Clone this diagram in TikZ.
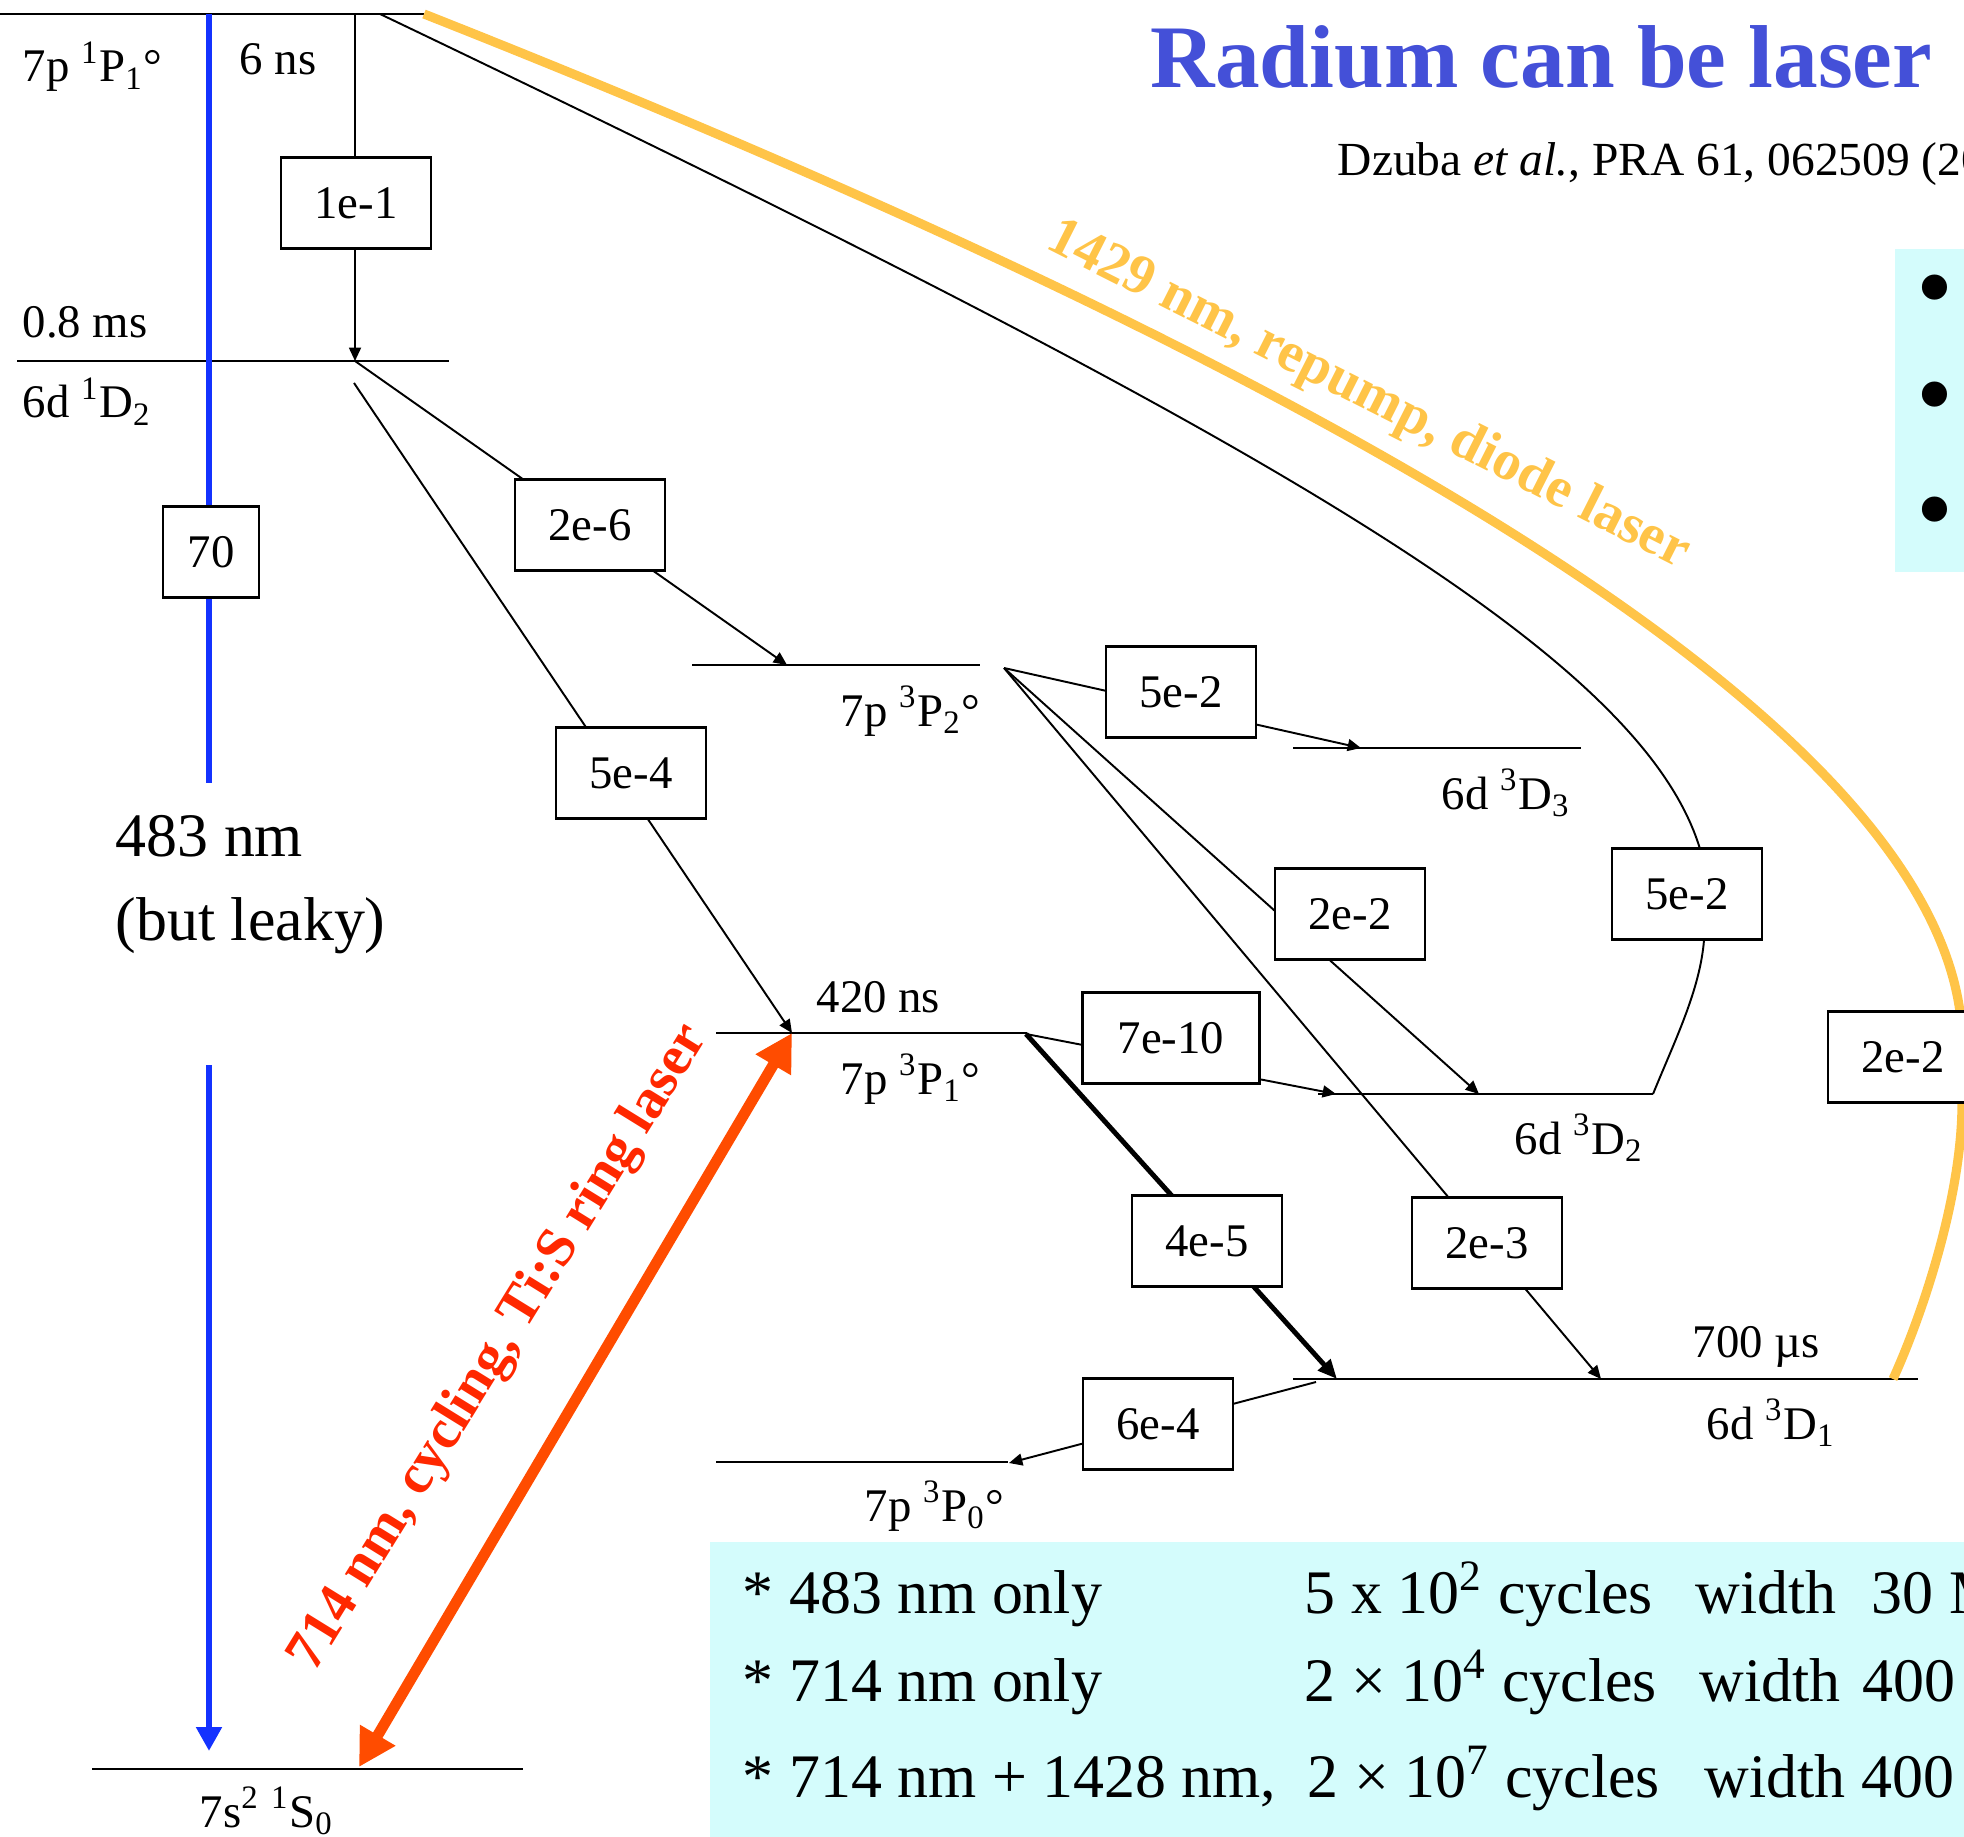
\documentclass[tikz,border=0pt]{standalone}
\usepackage{fontspec}
\setmainfont{Liberation Serif}
\usetikzlibrary{arrows.meta}
\definecolor{titleblue}{RGB}{68,80,216}
\definecolor{beamblue}{RGB}{20,50,255}
\definecolor{cyclered}{RGB}{255,76,0}
\definecolor{cycletext}{RGB}{255,40,0}
\definecolor{repump}{RGB}{255,196,72}
\definecolor{panel}{RGB}{212,252,252}

\begin{document}
\begin{tikzpicture}[
  x=0.01cm, y=-0.01cm,
  font=\fontsize{13.3}{16}\selectfont,
  rate/.style={draw=black, fill=white, line width=0.8pt, inner sep=0pt,
               minimum width=1.5cm, minimum height=0.91cm},
  lvl/.style={draw=black, line width=0.75pt},
  arr/.style={-{Triangle[length=3.8pt,width=3.4pt]}, draw=black, line width=0.55pt},
  heavyarr/.style={arr, -{Triangle[length=5.5pt,width=4.6pt]}, line width=1.4pt},
  beam/.style={draw=beamblue, line width=1.9pt},
  lab/.style={anchor=base west, inner sep=0pt},
  biglab/.style={lab, font=\fontsize{17.6}{21}\selectfont},
  slant/.style={inner sep=0pt, font=\bfseries\fontsize{16}{19}\selectfont},
  bul/.style={inner sep=0pt, font=\fontsize{30}{32}\selectfont}
]
\useasboundingbox (0,0) rectangle (1964,1837);
\clip (0,0) rectangle (1964,1837);

\fill[panel] (1895,249) rectangle (1990,572);
\fill[panel] (710,1542) rectangle (1990,1860);

\coordinate (p11L) at (0,14);     \coordinate (p11R) at (424,14);
\coordinate (d12L) at (17,361);   \coordinate (d12R) at (449,361);
\coordinate (p32L) at (692,665);  \coordinate (p32R) at (980,665);
\coordinate (d33L) at (1293,748); \coordinate (d33R) at (1581,748);
\coordinate (p31L) at (716,1033); \coordinate (p31R) at (1027,1033);
\coordinate (d32L) at (1318,1094);\coordinate (d32R) at (1653,1094);
\coordinate (d31L) at (1293,1379);\coordinate (d31R) at (1918,1379);
\coordinate (p30L) at (716,1462); \coordinate (p30R) at (1008,1462);
\coordinate (s10L) at (92,1769);  \coordinate (s10R) at (523,1769);

\coordinate (p11drop) at (355,14);
\coordinate (d12hit) at (355,361);
\coordinate (d12out) at (354,383);
\coordinate (p32hit) at (787,665);
\coordinate (p31hit) at (792,1033);
\coordinate (p32src) at (1004,668);
\coordinate (d33hit) at (1361,748);
\coordinate (d32hitA) at (1479,1094);
\coordinate (d31hitA) at (1601,1379);
\coordinate (p31src) at (1026,1034);
\coordinate (d32hitB) at (1336,1094);
\coordinate (d31hitB) at (1337,1379);
\coordinate (d31src) at (1316,1382);
\coordinate (p30hit) at (1009,1463);
\coordinate (p11curve) at (380,14);
\coordinate (p11yel) at (424,14);
\coordinate (d31yel) at (1893,1379);
\coordinate (blueTop) at (209,14);
\coordinate (blueGap) at (209,783);
\coordinate (blueResume) at (209,1065);
\coordinate (blueTip) at (209,1751);
\coordinate (s10red) at (359,1767);

\draw[lvl] (p11L) -- (p11R);
\draw[lvl] (d12L) -- (d12R);
\draw[lvl] (p32L) -- (p32R);
\draw[lvl] (d33L) -- (d33R);
\draw[lvl] (p31L) -- (p31R);
\draw[lvl] (d32L) -- (d32R);
\draw[lvl] (d31L) -- (d31R);
\draw[lvl] (p30L) -- (p30R);
\draw[lvl] (s10L) -- (s10R);

\draw[arr] (p11drop) -- (d12hit);
\draw[arr] (d12hit) -- (p32hit);
\draw[arr] (d12out) -- (p31hit);
\draw[arr] (p32src) -- (d33hit);
\draw[arr] (p32src) -- (d32hitA);
\draw[arr] (p32src) -- (d31hitA);
\draw[arr] (p31src) -- (d32hitB);
\draw[heavyarr] (p31src) -- (d31hitB);
\draw[arr] (d31src) -- (p30hit);
\draw[line width=0.55pt] (p11curve) .. controls (1250,430) and (1640,650) .. (1700,849)
  -- (1704,940) .. controls (1700,990) and (1675,1040) .. (d32R);
\draw[repump, line width=2.6pt] (p11yel) .. controls (1350,380) and (1920,720) .. (1960,1012)
  -- (1962,1103) .. controls (1962,1200) and (1920,1320) .. (d31yel);

\draw[beam] (blueTop) -- (blueGap);
\draw[beam, -{Triangle[length=6.8pt,width=7pt]}] (blueResume) -- (blueTip);
\draw[cyclered, line width=3.1pt, {Triangle[length=10.5pt,width=11pt]}-{Triangle[length=10.5pt,width=11pt]}] (s10red) -- (p31hit);

\node[rate] (r11) at (356,203) {1e-1};
\node[rate, minimum width=0.96cm] (r70) at (211,552) {70};
\node[rate] (r26) at (590,525) {2e-6};
\node[rate] (r54) at (631,773) {5e-4};
\node[rate] (r52a) at (1181,692) {5e-2};
\node[rate] (r22a) at (1350,914) {2e-2};
\node[rate] (r52b) at (1687,894) {5e-2};
\node[rate, minimum width=1.77cm] (r710) at (1171,1038) {7e-10};
\node[rate] (r45) at (1207,1241) {4e-5};
\node[rate] (r23) at (1487,1243) {2e-3};
\node[rate] (r64) at (1158,1424) {6e-4};
\node[rate] (r22b) at (1903,1057) {2e-2};

\node[lab] (l11) at (22,82) {7p \textsuperscript{1}P\textsubscript{1}°};
\node[lab] (t11) at (239,75) {6 ns};
\node[lab] (t12) at (22,338) {0.8 ms};
\node[lab] (l12) at (22,418) {6d \textsuperscript{1}D\textsubscript{2}};
\node[lab] (l32) at (840,726) {7p \textsuperscript{3}P\textsubscript{2}°};
\node[lab] (l33) at (1441,809) {6d \textsuperscript{3}D\textsubscript{3}};
\node[lab] (t31) at (816,1012) {420 ns};
\node[lab] (l31) at (840,1094) {7p \textsuperscript{3}P\textsubscript{1}°};
\node[lab] (l3d2) at (1514,1154) {6d \textsuperscript{3}D\textsubscript{2}};
\node[lab] (t3d1) at (1692,1357) {700 µs};
\node[lab] (l3d1) at (1706,1439) {6d \textsuperscript{3}D\textsubscript{1}};
\node[lab] (l30) at (864,1521) {7p \textsuperscript{3}P\textsubscript{0}°};
\node[lab] (l10) at (199,1827) {7s\textsuperscript{2} \textsuperscript{1}S\textsubscript{0}};

\node[biglab] (w483) at (115,856) {483 nm};
\node[biglab] (leaky) at (115,940) {(but leaky)};

\node[slant, text=cycletext, rotate=58.3] (cyclab) at (500,1348) {714 nm, cycling, Ti:S ring laser};
\node[slant, text=repump, rotate=-26.8] (replab) at (1368,396) {1429 nm, repump, diode laser};

\node[lab, font=\bfseries\fontsize{25.4}{30}\selectfont, text=titleblue] (title) at (1150,88) {Radium can be laser};
\node[lab, font=\fontsize{13.5}{16}\selectfont] (ref) at (1337,176) {Dzuba \textit{et al.}, PRA 61, 062509 (2000)};

\node[bul] (bul1) at (1935,299) {•};
\node[bul] (bul2) at (1935,406) {•};
\node[bul] (bul3) at (1935,521) {•};

\node[biglab] (row1a) at (742,1613) {* 483 nm only};
\node[biglab] (row1b) at (1304,1613) {5 x 10\textsuperscript{2} cycles};
\node[biglab] (row1c) at (1695,1613) {width\hspace{0.35cm}30 MHz};
\node[biglab] (row2a) at (742,1701) {* 714 nm only};
\node[biglab] (row2b) at (1304,1701) {2 × 10\textsuperscript{4} cycles};
\node[biglab] (row2c) at (1699,1701) {width\hspace{0.22cm}400 kHz};
\node[biglab] (row3a) at (742,1797) {* 714 nm + 1428 nm,};
\node[biglab] (row3b) at (1307,1797) {2 × 10\textsuperscript{7} cycles};
\node[biglab] (row3c) at (1704,1797) {width 400 kHz};
\end{tikzpicture}
\end{document}
